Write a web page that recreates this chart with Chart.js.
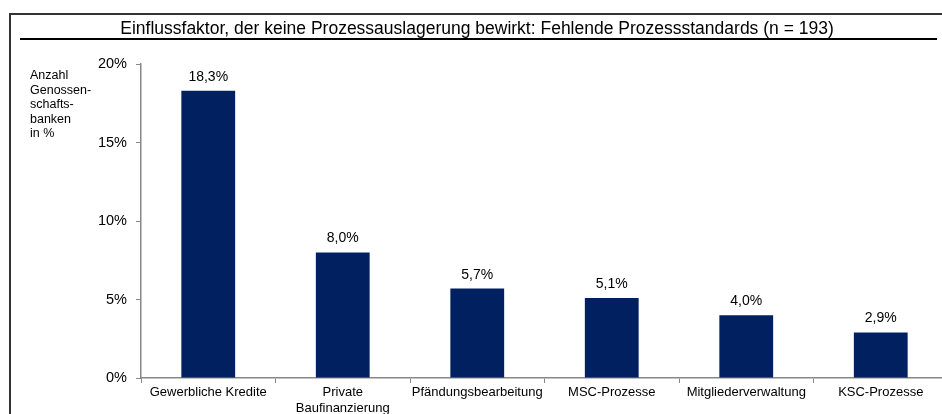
<!DOCTYPE html>
<html>
<head>
<meta charset="utf-8">
<script src="https://cdn.jsdelivr.net/npm/chart.js@4"></script>
<style>
  html, body { margin: 0; padding: 0; background: #fff; overflow: hidden; }
  #wrap { width: 948px; height: 414px; }
</style>
</head>
<body>
<div id="wrap"><canvas id="chart" width="948" height="414"></canvas></div>
<script>
// data
const categories = ['Gewerbliche Kredite', ['Private', 'Baufinanzierung'], 'Pfändungsbearbeitung', 'MSC-Prozesse', 'Mitgliederverwaltung', 'KSC-Prozesse'];
const shares = [18.3, 8.0, 5.7, 5.1, 4.0, 2.9];
const yTicks = [0, 5, 10, 15, 20];
const titleText = 'Einflussfaktor, der keine Prozessauslagerung bewirkt: Fehlende Prozessstandards (n = 193)';
const yTitleLines = ['Anzahl', 'Genossen-', 'schafts-', 'banken', 'in %'];

const FONT = 'Arial, "Liberation Sans", sans-serif';

// frame, title and y axis caption
const framePlugin = {
  id: 'frame',
  afterDraw(chart) {
    const ctx = chart.ctx;
    ctx.save();
    ctx.strokeStyle = '#333';
    ctx.lineWidth = 2;
    ctx.beginPath();
    ctx.moveTo(10, 414);
    ctx.lineTo(10, 14);
    ctx.lineTo(948, 14);
    ctx.stroke();

    ctx.strokeStyle = '#000';
    ctx.beginPath();
    ctx.moveTo(20, 39);
    ctx.lineTo(937, 39);
    ctx.stroke();

    ctx.fillStyle = '#000';
    ctx.font = '17.5px ' + FONT;
    ctx.textAlign = 'center';
    ctx.textBaseline = 'alphabetic';
    ctx.fillText(titleText, 477, 34);

    ctx.font = '12.5px ' + FONT;
    ctx.textAlign = 'left';
    ctx.textBaseline = 'middle';
    yTitleLines.forEach((l, i) => ctx.fillText(l, 30, 76 + i * 14.4));
    ctx.restore();
  }
};

// value labels above the bars
const valueLabels = {
  id: 'valueLabels',
  afterDatasetsDraw(chart) {
    const ctx = chart.ctx;
    const meta = chart.getDatasetMeta(0);
    ctx.save();
    ctx.fillStyle = '#000';
    ctx.font = '14px ' + FONT;
    ctx.textAlign = 'center';
    ctx.textBaseline = 'alphabetic';
    meta.data.forEach((bar, i) => {
      ctx.fillText(shares[i].toFixed(1).replace('.', ',') + '%', bar.x, bar.y - 10);
    });
    ctx.restore();
  }
};

new Chart(document.getElementById('chart'), {
  type: 'bar',
  data: {
    labels: categories,
    datasets: [{
      data: shares,
      backgroundColor: '#002060',
      borderWidth: 0,
      barPercentage: 0.5,
      categoryPercentage: 0.8
    }]
  },
  options: {
    responsive: false,
    animation: false,
    layout: { padding: { top: 64, left: 0, right: 0, bottom: 0 } },
    plugins: {
      legend: { display: false },
      tooltip: { enabled: false },
      title: { display: false }
    },
    scales: {
      x: {
        offset: true,
        grid: { display: true, drawOnChartArea: false, drawTicks: true, tickLength: 5, color: '#888', offset: true },
        border: { display: true, color: '#888', width: 1.5 },
        ticks: { color: '#000', font: { family: FONT, size: 13 }, maxRotation: 0, autoSkip: false, padding: 2 },
        afterFit: s => { s.height = 36; }
      },
      y: {
        min: 0,
        max: 20,
        afterBuildTicks: s => { s.ticks = yTicks.map(v => ({ value: v })); },
        grid: { display: true, drawOnChartArea: false, drawTicks: true, tickLength: 5, color: '#888' },
        border: { display: true, color: '#888', width: 1.5 },
        ticks: { color: '#000', font: { family: FONT, size: 14.5 }, padding: 9, callback: v => v + '%' },
        afterFit: s => { s.width = 141; }
      }
    }
  },
  plugins: [framePlugin, valueLabels]
});
</script>
</body>
</html>
